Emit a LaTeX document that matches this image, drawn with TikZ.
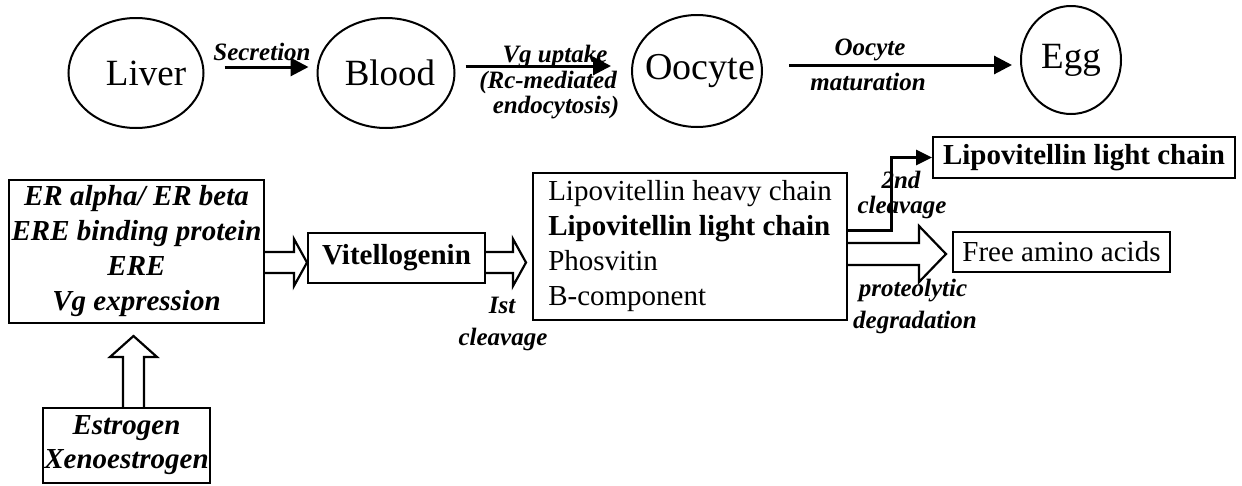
\documentclass[tikz,border=0pt]{standalone}
\usepackage{fontspec}
\setmainfont{Liberation Serif}
\usetikzlibrary{arrows.meta,calc,shapes.geometric}
\tikzset{
  ell/.style={draw, line width=2pt, ellipse, inner sep=0pt},
  bigtxt/.style={font=\fontsize{37}{40}\selectfont, inner sep=0pt},
  lab/.style={font=\fontsize{25}{28}\selectfont\bfseries\itshape, inner sep=0pt, anchor=base},
  bx/.style={draw, line width=2pt, inner sep=0pt},
  bitxt/.style={font=\fontsize{29}{35}\selectfont\bfseries\itshape, align=center},
  btxt/.style={font=\fontsize{29}{35}\selectfont\bfseries},
  rtxt/.style={font=\fontsize{29}{35}\selectfont},
  thinarrow/.style={line width=3pt, -{Triangle[length=18pt,width=18pt]}},
  elbow/.style={line width=3pt, -{Triangle[length=16pt,width=15pt]}},
  hollow/.style={draw, line width=2.2pt, line join=miter},
}
\begin{document}
\begin{tikzpicture}[x=1pt,y=-1pt]
\useasboundingbox (0,0) rectangle (1242,485);

% top row
\node[ell, minimum width=135pt, minimum height=110pt] (liver) at (136,73) {};
\node[bigtxt] (livert) at (146,73) {Liver};
\node[ell, minimum width=137pt, minimum height=110pt] (blood) at (386,73) {};
\node[bigtxt] (bloodt) at (390,73) {Blood};
\node[ell, minimum width=130pt, minimum height=112pt] (oocyte) at (697,71) {};
\node[bigtxt, font=\fontsize{38}{40}\selectfont] (oocytet) at (700,71) {Oocyte};
\node[ell, minimum width=100pt, minimum height=108pt] (egg) at (1071,60) {};
\node[bigtxt] (eggt) at (1071,60) {Egg};

\draw[thinarrow] ([xshift=20pt,yshift=6pt]liver.east) -- ([xshift=-8pt,yshift=6pt]blood.west);
\draw[thinarrow] ([xshift=10pt,yshift=7pt]blood.east) -- ([xshift=-20pt,yshift=5pt]oocyte.west);
\draw[thinarrow] ([xshift=26pt,yshift=6pt]oocyte.east) -- ([xshift=-8pt,yshift=-5pt]egg.west);

\node[lab] (secl) at (262,60) {Secretion};
\node[lab] (vgl1) at (555,62) {Vg uptake};
\node[lab] (vgl2) at (548,88) {(Rc-mediated};
\node[lab] (vgl3) at (556,113) {endocytosis)};
\node[lab] (mat1) at (870,55) {Oocyte};
\node[lab] (mat2) at (868,90) {maturation};

% bottom boxes
\node[bx, bitxt, minimum width=255pt, minimum height=143pt] (er) at (136.5,251.5)
  {ER alpha/ ER beta\\ERE binding protein\\ERE\\Vg expression};
\node[bx, bitxt, font=\fontsize{29}{34}\selectfont\bfseries\itshape, minimum width=167pt, minimum height=75pt] (estr) at (126.5,445.5)
  {Estrogen\\Xenoestrogen};
\node[bx, btxt, minimum width=177pt, minimum height=50pt] (vit) at (396.5,258) {Vitellogenin};
\node[bx, rtxt, align=left, minimum width=314pt, minimum height=147pt] (comp) at (690,246.5)
  {Lipovitellin heavy chain\\\textbf{Lipovitellin light chain}\\Phosvitin\\B-component};
\node[bx, btxt, minimum width=302pt, minimum height=41pt] (llc) at (1084,157.5) {Lipovitellin light chain};
\node[bx, rtxt, minimum width=217pt, minimum height=40pt] (faa) at (1061.5,252) {Free amino acids};

% hollow block arrows
\draw[hollow] let \p1=(er.east), \p2=(vit.west) in
  (\x1,\y2+6pt) -- (\x2-13pt,\y2+6pt) -- (\x2-13pt,\y2+19pt) -- (\x2,\y2-4.5pt)
  -- (\x2-13pt,\y2-28pt) -- (\x2-13pt,\y2-15pt) -- (\x1,\y2-15pt);
\draw[hollow] let \p1=(vit.east), \p2=(comp.west) in
  (\x1,\y1+6pt) -- (\x2-19pt,\y1+6pt) -- (\x2-19pt,\y1+19pt) -- (\x2-6pt,\y1-4.5pt)
  -- (\x2-19pt,\y1-28pt) -- (\x2-19pt,\y1-15pt) -- (\x1,\y1-15pt);
\draw[hollow] let \p1=(comp.east), \p2=(faa.west) in
  (\x1,\y2+9pt) -- (\x2-33pt,\y2+9pt) -- (\x2-33pt,\y2+26pt) -- (\x2-6pt,\y2-2pt)
  -- (\x2-33pt,\y2-30pt) -- (\x2-33pt,\y2-13pt) -- (\x1,\y2-13pt);
\draw[hollow] let \p1=(estr.north), \p2=(er.south) in
  (\x2-13.5pt,\y1) -- (\x2-13.5pt,\y2-33pt) -- (\x2-26.5pt,\y2-33pt) -- (\x2-3pt,\y2-12pt)
  -- (\x2+20.5pt,\y2-33pt) -- (\x2+7.5pt,\y2-33pt) -- (\x2+7.5pt,\y1);

% elbow arrow
\draw[elbow] ([yshift=16.5pt]comp.east) -- ++(43,0) |- (llc.west);

% labels
\node[lab] (cl1a) at (502,313) {Ist};
\node[lab] (cl1b) at (503,345) {cleavage};
\node[lab] (cl2a) at (901,188) {2nd};
\node[lab] (cl2b) at (902,213) {cleavage};
\node[lab] (prot1) at (913,296) {proteolytic};
\node[lab] (prot2) at (915,328) {degradation};
\end{tikzpicture}
\end{document}
